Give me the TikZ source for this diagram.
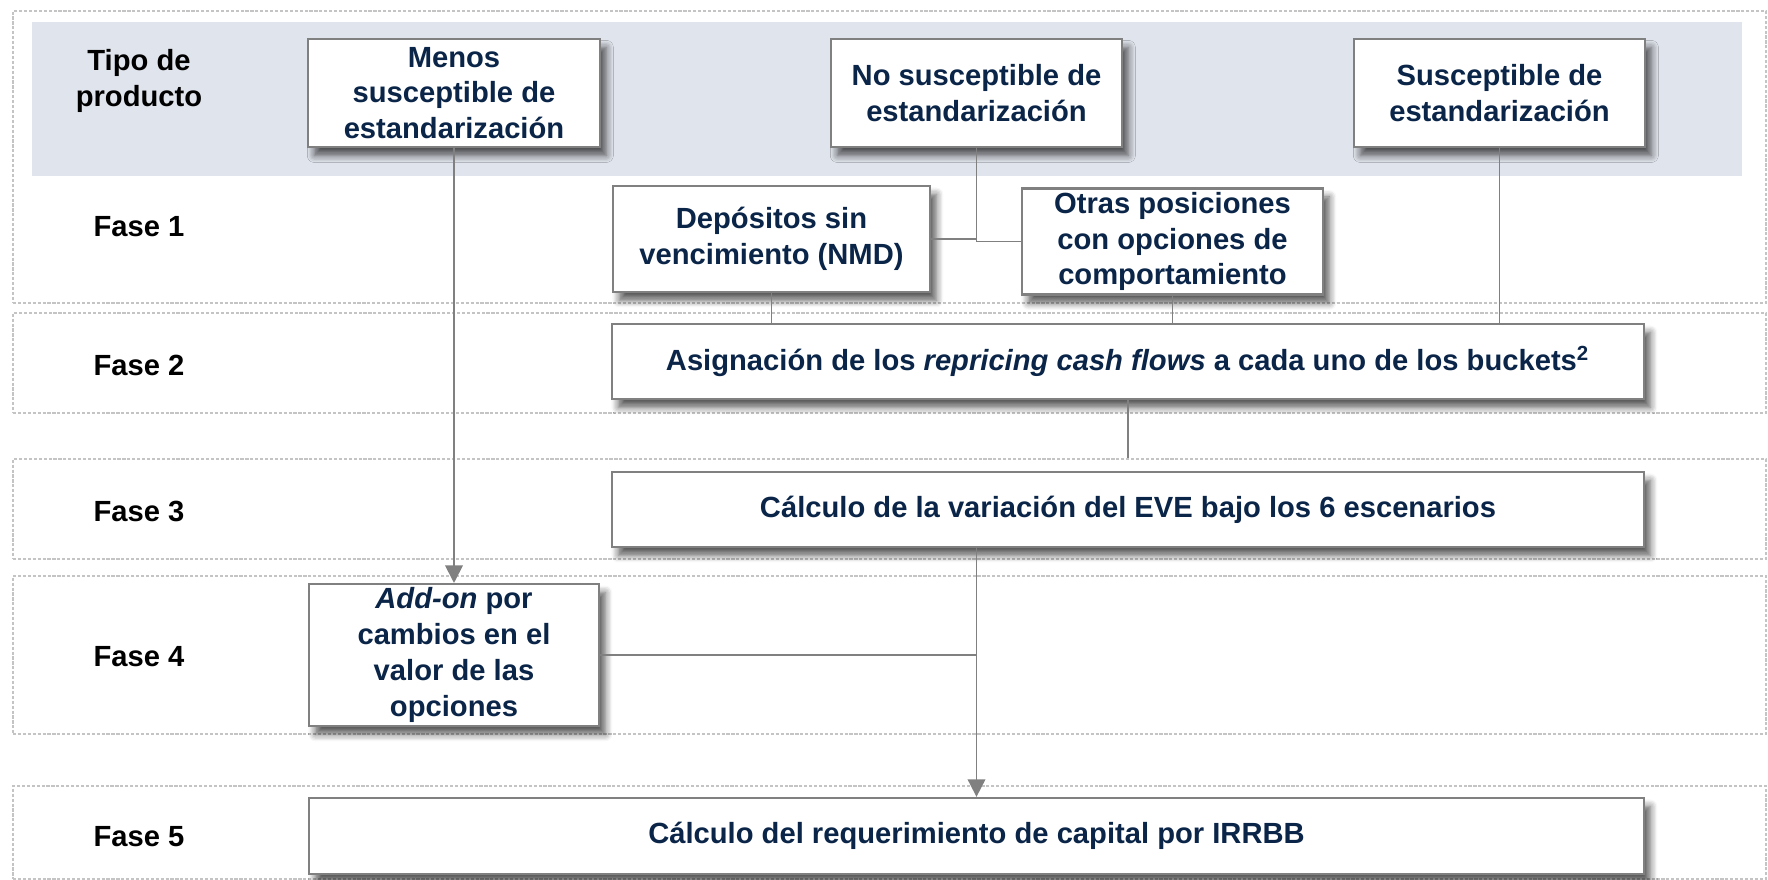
\documentclass[tikz,border=0pt]{standalone}
\usepackage{fontspec}
\setmainfont{Liberation Sans}
\usepackage{xcolor}
\usepackage{tikz}
\usetikzlibrary{positioning,arrows.meta,shadows.blur}

\definecolor{navy}{HTML}{0A2548}
\definecolor{linegray}{HTML}{808080}
\definecolor{bandfill}{HTML}{E0E4EC}
\definecolor{bandline}{HTML}{C4C4C4}

\begin{document}
\begin{tikzpicture}[x=0.1mm, y=-0.1mm,
    box/.style={draw=linegray, line width=0.65pt, fill=white, align=center, text=navy,
        font=\fontsize{8.3}{10.2}\selectfont\bfseries, inner sep=1pt,
        blur shadow={shadow xshift=1.8pt, shadow yshift=-2.4pt, shadow blur steps=6,
            shadow blur radius=2pt, shadow opacity=65}},
    band/.style={draw=bandline, line width=0.35pt, dash pattern=on 0.9pt off 0.5pt},
    phase/.style={align=center, font=\fontsize{8.3}{10.2}\selectfont\bfseries},
    link/.style={draw=linegray, line width=0.55pt},
    arrow/.style={link, -{Triangle[width=5pt,length=5pt]}, color=linegray}]

\useasboundingbox (0,0) rectangle (1768,880);

% Bands
\fill[bandfill] (32,22) rectangle (1742,176);
\node[band, inner sep=0, minimum width=175.3mm, minimum height=29.2mm] (band1) at (889.5,157) {};
\node[band, inner sep=0, minimum width=175.3mm, minimum height=10mm] (band2) at (889.5,363) {};
\node[band, inner sep=0, minimum width=175.3mm, minimum height=10mm] (band3) at (889.5,509) {};
\node[band, inner sep=0, minimum width=175.3mm, minimum height=15.8mm] (band4) at (889.5,655) {};
\node[band, inner sep=0, minimum width=175.3mm, minimum height=9.3mm] (band5) at (889.5,832.5) {};

% Row labels
\node[phase] (tipo) at (139,81) {Tipo de\\producto};
\node[phase] (fase1) at (139,227) {Fase 1};
\node[phase] (fase2) at (139,365) {Fase 2};
\node[phase] (fase3) at (139,511) {Fase 3};
\node[phase] (fase4) at (139,657) {Fase 4};
\node[phase] (fase5) at (139,837) {Fase 5};

% Product types
\node[box, minimum width=29.2mm, minimum height=10.8mm] (menos) at (454,93) {Menos\\susceptible de\\estandarización};
\node[box, minimum width=29.1mm, minimum height=10.8mm] (nosusc) at (976.5,93) {No susceptible de\\estandarización};
\node[box, minimum width=29.1mm, minimum height=10.8mm] (susc) at (1499.5,93) {Susceptible de\\estandarización};

% Phase boxes
\node[box, minimum width=31.7mm, minimum height=10.6mm] (depos) at (771.5,239) {Depósitos sin\\vencimiento (NMD)};
\node[box, minimum width=30.1mm, minimum height=10.5mm] (otras) at (1172.5,241.5) {Otras posiciones\\con opciones de\\comportamiento};
\node[box, minimum width=103.2mm, minimum height=7.5mm] (asign) at (1128,361.5) {Asignación de los \textit{repricing cash flows} a cada uno de los buckets\textsuperscript{2}};
\node[box, minimum width=103.2mm, minimum height=7.5mm] (calc) at (1128,509.5) {Cálculo de la variación del EVE bajo los 6 escenarios};
\node[box, minimum width=29mm, minimum height=13.6mm] (addon) at (454,655) {\textit{Add-on} por\\cambios en el\\valor de las\\opciones};
\node[box, minimum width=133.5mm, minimum height=7.6mm] (capital) at (976.5,836) {Cálculo del requerimiento de capital por IRRBB};

% Connections
\draw[link] (nosusc.south) |- (otras.west);
\draw[link] (depos.east) -- (depos.east -| nosusc.south);
\foreach \b in {depos,otras,susc}
    \draw[link] (\b.south) -- (\b.south |- asign.north);
\draw[link] (asign.south) -- (asign.south |- band3.north);
\draw[arrow] (menos.south) -- (addon.north);
\draw[arrow] (calc.south -| capital.north) -- (capital.north);
\draw[link] (addon.east) -- (addon.east -| capital.north);
\end{tikzpicture}
\end{document}
